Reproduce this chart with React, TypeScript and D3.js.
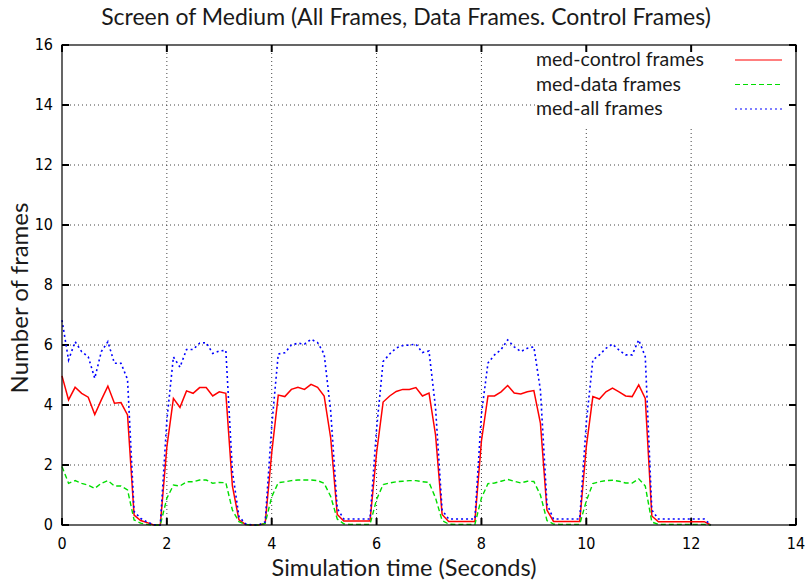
import React from "react";
import * as d3 from "d3";

// sampled every 0.125 s
const SAMPLE_STEP = 0.125;

const controlFrames = [
  4.97, 4.17, 4.59, 4.39, 4.26, 3.68, 4.17, 4.63, 4.06, 4.08,
  3.67, 0.33, 0.15, 0.08, 0, 0, 2.6, 4.22, 3.92, 4.47,
  4.39, 4.58, 4.58, 4.3, 4.44, 4.39, 1.3, 0.17, 0.02, 0,
  0, 0.05, 2.4, 4.33, 4.28, 4.52, 4.59, 4.52, 4.69, 4.59,
  4.3, 2.9, 0.35, 0.13, 0.13, 0.13, 0.13, 0.13, 2.4, 4.1,
  4.3, 4.45, 4.52, 4.52, 4.58, 4.3, 4.4, 3.0, 0.35, 0.12,
  0.12, 0.12, 0.12, 0.12, 2.8, 4.3, 4.3, 4.44, 4.65, 4.4,
  4.37, 4.44, 4.48, 3.4, 0.5, 0.12, 0.12, 0.12, 0.12, 0.12,
  2.6, 4.28, 4.2, 4.44, 4.56, 4.44, 4.3, 4.28, 4.67, 4.22,
  0.3, 0.11, 0.11, 0.11, 0.11, 0.11, 0.11, 0.11, 0.11, 0,
];

const dataFrames = [
  1.95, 1.39, 1.48, 1.39, 1.33, 1.22, 1.39, 1.48, 1.3, 1.3,
  1.17, 0.17, 0.06, 0.02, 0, 0, 0.89, 1.33, 1.3, 1.44,
  1.44, 1.5, 1.5, 1.39, 1.42, 1.41, 0.5, 0.11, 0.02, 0,
  0, 0.05, 0.94, 1.41, 1.44, 1.48, 1.5, 1.5, 1.5, 1.48,
  1.39, 0.95, 0.2, 0.04, 0.02, 0.02, 0.02, 0.02, 0.85, 1.35,
  1.4, 1.44, 1.46, 1.48, 1.48, 1.44, 1.42, 0.9, 0.15, 0.03,
  0.02, 0.02, 0.02, 0.02, 0.9, 1.38, 1.4, 1.46, 1.52, 1.46,
  1.4, 1.46, 1.45, 1.0, 0.15, 0.03, 0.02, 0.02, 0.02, 0.02,
  0.8, 1.38, 1.44, 1.48, 1.49, 1.46, 1.4, 1.4, 1.54, 1.3,
  0.1, 0.02, 0.02, 0.02, 0.02, 0.02, 0.02, 0.02, 0.02, 0,
];

const allFrames = [
  6.83, 5.5, 6.11, 5.78, 5.61, 4.89, 5.78, 6.11, 5.39, 5.39,
  4.85, 0.45, 0.22, 0.1, 0.01, 0, 3.5, 5.6, 5.26, 5.85,
  5.85, 6.06, 6.08, 5.72, 5.8, 5.82, 1.8, 0.28, 0.04, 0,
  0, 0.1, 3.3, 5.7, 5.74, 6.0, 6.06, 6.03, 6.19, 6.08,
  5.7, 3.8, 0.55, 0.2, 0.2, 0.2, 0.2, 0.2, 3.2, 5.45,
  5.7, 5.9, 5.98, 6.0, 6.03, 5.75, 5.8, 3.9, 0.5, 0.2,
  0.2, 0.2, 0.2, 0.2, 3.7, 5.4, 5.67, 5.85, 6.17, 5.94,
  5.78, 5.89, 5.94, 4.5, 0.7, 0.2, 0.2, 0.2, 0.2, 0.2,
  3.4, 5.5, 5.67, 5.89, 6.03, 5.83, 5.67, 5.67, 6.17, 5.61,
  0.5, 0.2, 0.2, 0.2, 0.2, 0.2, 0.2, 0.2, 0.2, 0,
];

const xTicks = [0, 2, 4, 6, 8, 10, 12, 14];
const yTicks = [0, 2, 4, 6, 8, 10, 12, 14, 16];

const series = [
  { name: "med-control frames", values: controlFrames, color: "#ff0000", dash: "none", width: 1.5 },
  { name: "med-data frames", values: dataFrames, color: "#00dd00", dash: "5,3", width: 1.4 },
  { name: "med-all frames", values: allFrames, color: "#0000ff", dash: "2,3", width: 1.6 },
];

const W = 808;
const H = 581;
const left = 62;
const right = 796;
const top = 45;
const bottom = 525;

const tickFont = "'Liberation Sans Narrow', 'DejaVu Sans Condensed', 'Liberation Sans', sans-serif";
const labelFont = "Lato, 'Open Sans', sans-serif";

export default function App() {
  const x = d3.scaleLinear().domain([0, 14]).range([left, right]);
  const y = d3.scaleLinear().domain([0, 16]).range([bottom, top]);

  const line = d3
    .line<number>()
    .x((_, i) => x(i * SAMPLE_STEP))
    .y((d) => y(d));

  const tickLen = 7;

  return (
    <svg width={W} height={H} style={{ position: "absolute", left: 0, top: 0, background: "#fff" }}>
      <rect x={0} y={0} width={W} height={H} fill="#fff" />

      {/* grid */}
      {xTicks.slice(1, -1).map((t) => (
        <line key={`gx${t}`} x1={x(t)} x2={x(t)} y1={top} y2={bottom} stroke="#444" strokeDasharray="1,3" />
      ))}
      {yTicks.slice(1, -1).map((t) => (
        <line key={`gy${t}`} x1={left} x2={right} y1={y(t)} y2={y(t)} stroke="#444" strokeDasharray="1,3" />
      ))}

      {/* legend background hides the grid */}
      <rect x={535} y={top + 1} width={right - 536} height={80} fill="#fff" />

      {/* ticks, mirrored on all sides */}
      {xTicks.map((t) => (
        <g key={`tx${t}`} stroke="#000" strokeWidth={2}>
          <line x1={x(t)} x2={x(t)} y1={bottom} y2={bottom - tickLen} />
          <line x1={x(t)} x2={x(t)} y1={top} y2={top + tickLen} />
        </g>
      ))}
      {yTicks.map((t) => (
        <g key={`ty${t}`} stroke="#000" strokeWidth={2}>
          <line x1={left} x2={left + tickLen} y1={y(t)} y2={y(t)} />
          <line x1={right} x2={right - tickLen} y1={y(t)} y2={y(t)} />
        </g>
      ))}

      {/* data */}
      {series.map((s) => (
        <path
          key={s.name}
          d={line(s.values) ?? ""}
          fill="none"
          stroke={s.color}
          strokeWidth={s.width}
          strokeDasharray={s.dash}
        />
      ))}

      <rect x={left} y={top} width={right - left} height={bottom - top} fill="none" stroke="#000" strokeWidth={1.2} />

      {/* tick labels */}
      {xTicks.map((t) => (
        <text key={`lx${t}`} x={x(t)} y={bottom + 24} textAnchor="middle" fontFamily={tickFont} fontSize={16} fill="#000">
          {t}
        </text>
      ))}
      {yTicks.map((t) => (
        <text key={`ly${t}`} x={left - 9} y={y(t) + 5} textAnchor="end" fontFamily={tickFont} fontSize={16} fill="#000">
          {t}
        </text>
      ))}

      {/* legend */}
      {series.map((s, i) => (
        <g key={`leg${s.name}`}>
          <text x={536} y={66 + i * 24.5} fontFamily={labelFont} fontSize={19.5} fill="#1a1a1a">
            {s.name}
          </text>
          <line
            x1={735}
            x2={782}
            y1={60 + i * 24.5}
            y2={60 + i * 24.5}
            stroke={s.color}
            strokeWidth={1.2}
            strokeDasharray={s.dash}
          />
        </g>
      ))}

      {/* titles */}
      <text x={406} y={25} textAnchor="middle" fontFamily={labelFont} fontSize={23} fill="#1a1a1a">
        Screen of Medium (All Frames, Data Frames. Control Frames)
      </text>
      <text x={404} y={576} textAnchor="middle" fontFamily={labelFont} fontSize={23.5} fill="#1a1a1a">
        Simulation time (Seconds)
      </text>
      <text
        transform={`translate(28, 298) rotate(-90)`}
        textAnchor="middle"
        fontFamily={labelFont}
        fontSize={24}
        fill="#1a1a1a"
      >
        Number of frames
      </text>
    </svg>
  );
}
